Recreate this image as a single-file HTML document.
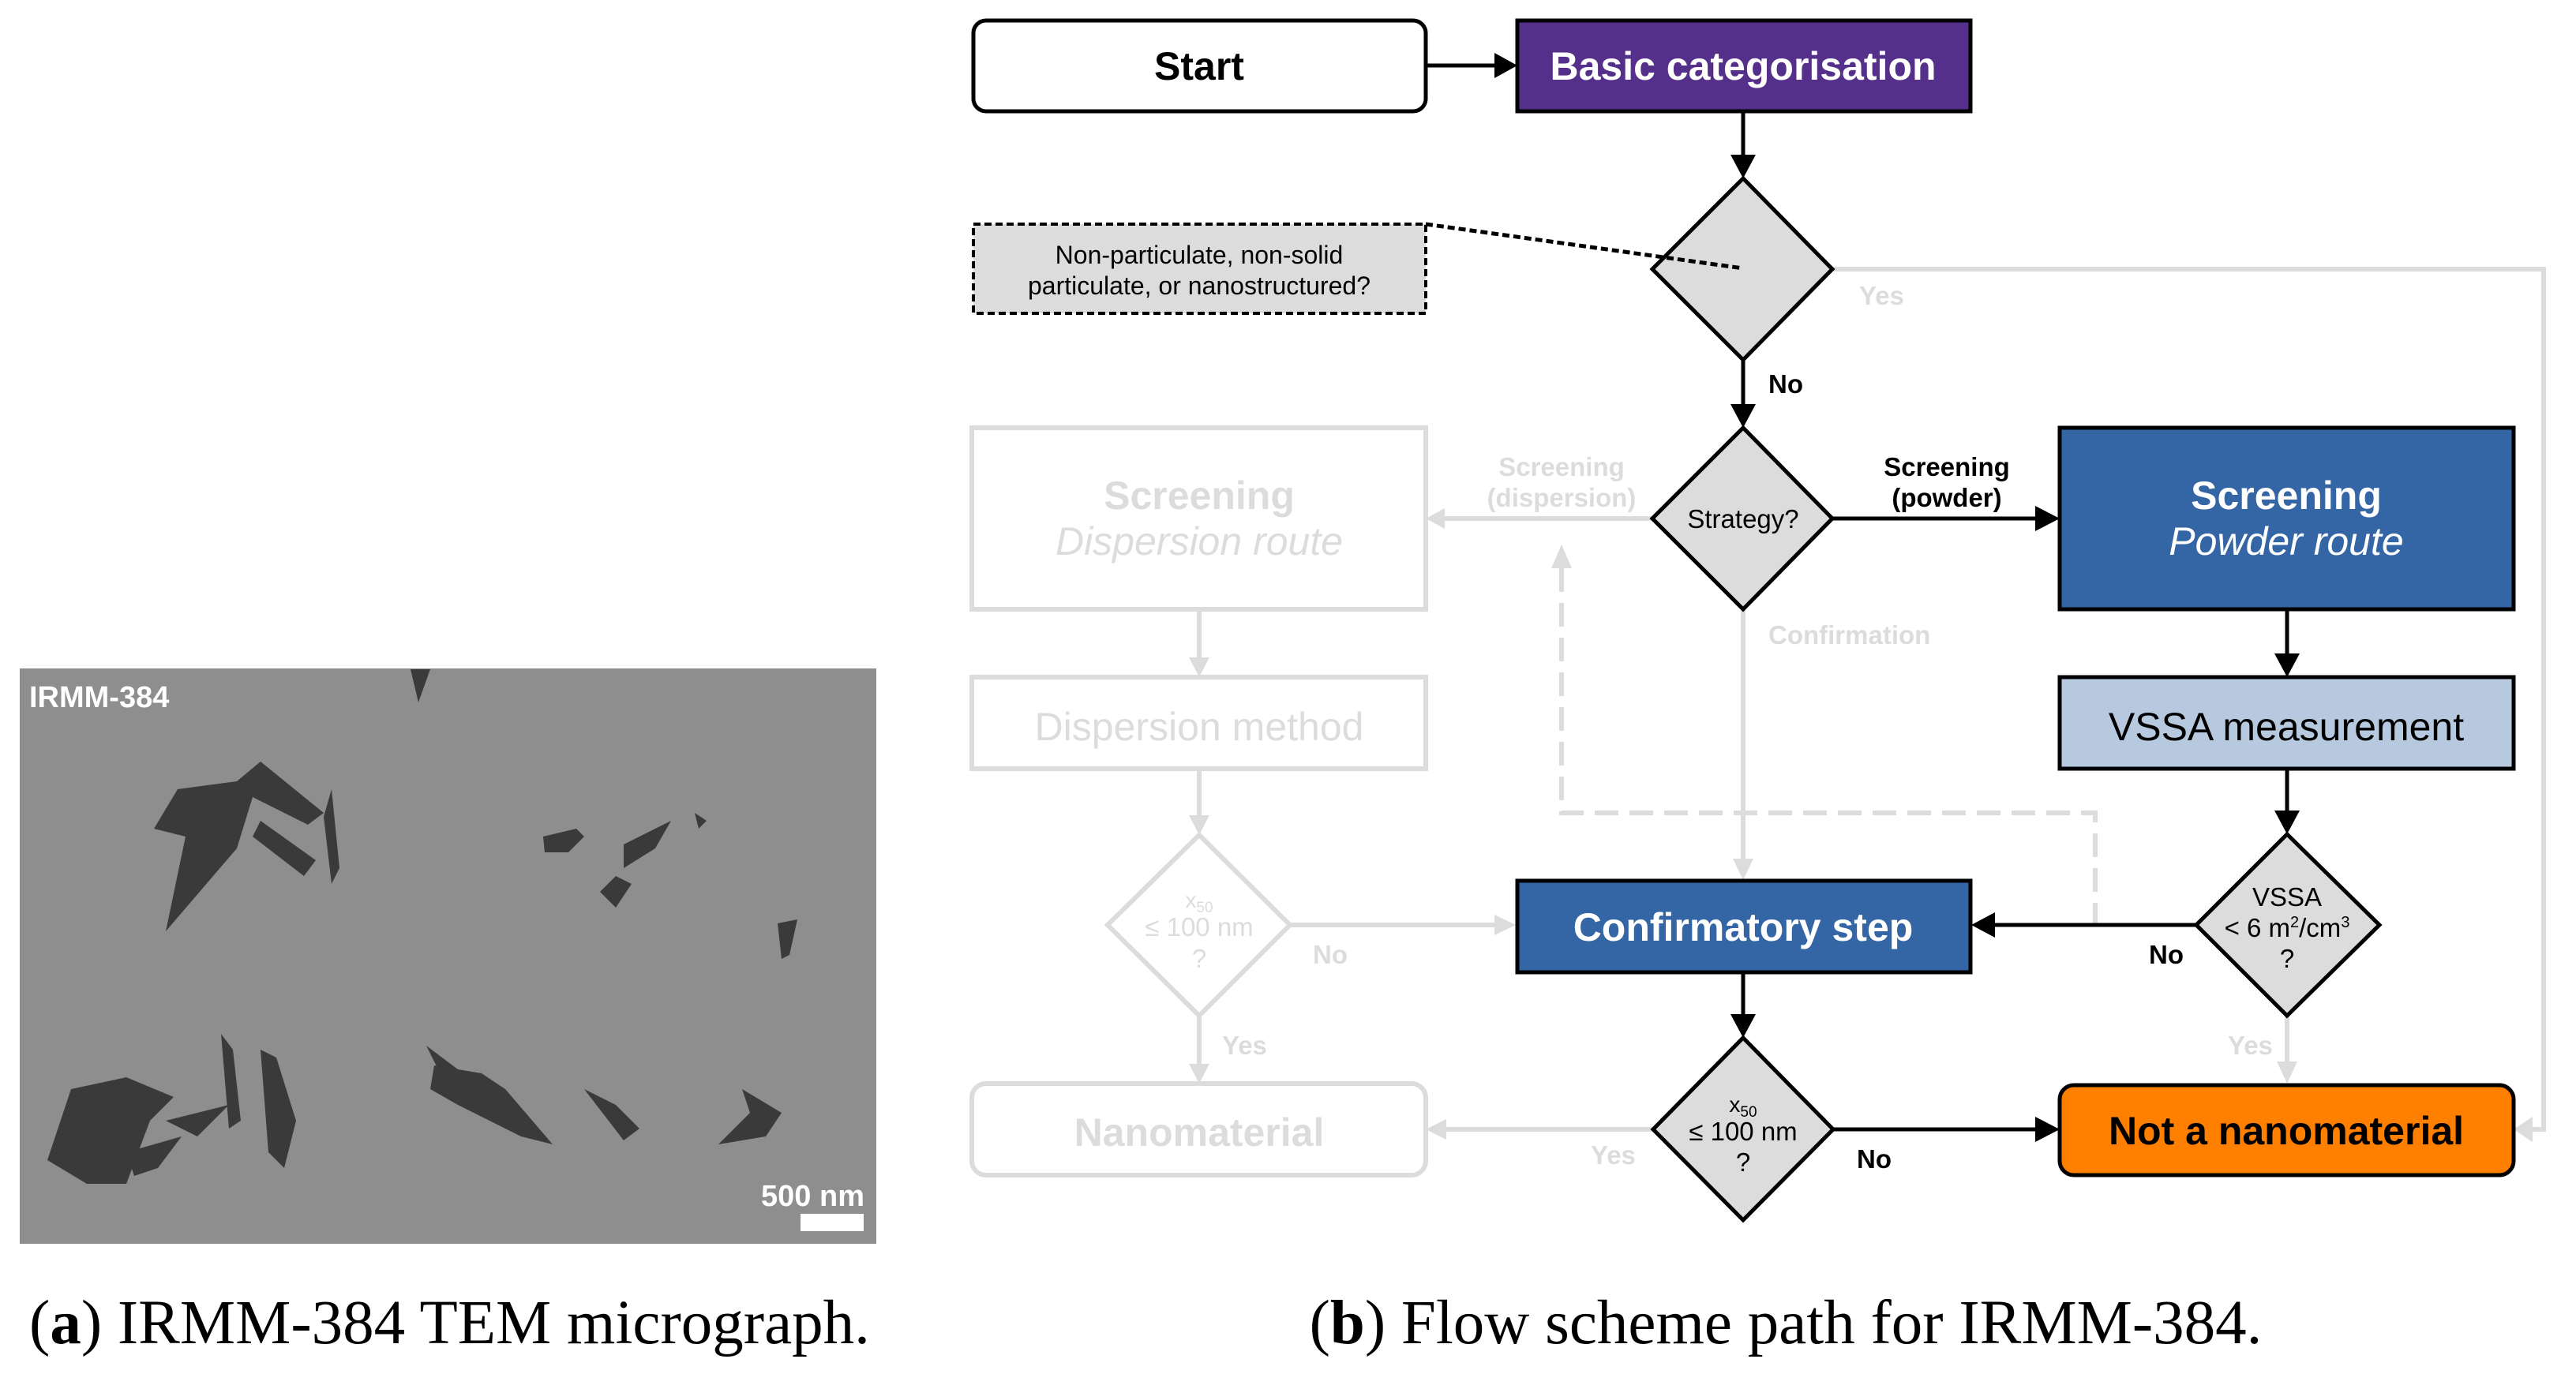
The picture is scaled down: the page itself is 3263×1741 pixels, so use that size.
<!DOCTYPE html>
<html><head><meta charset="utf-8"><style>
html,body{margin:0;padding:0;background:#fff;}
svg{display:block;}
text{font-family:"Liberation Sans",sans-serif;}
.cap{font-family:"Liberation Serif",serif;}
</style></head><body>
<svg width="3263" height="1741" viewBox="0 0 3263 1741" xmlns="http://www.w3.org/2000/svg">
<!-- Photo -->
<rect x="25" y="847" width="1085" height="729" fill="#8e8e8e"/>
<g fill="#3a3a3a">
<path d="M520,848 L545,848 L530,890 Z"/>
<path d="M225,1000 L300,990 L330,965 L410,1030 L390,1045 L320,1010 L300,1075 L210,1180 L235,1060 L195,1050 Z"/>
<path d="M330,1040 L400,1090 L385,1110 L320,1060 Z"/>
<path d="M410,1035 L420,1000 L430,1100 L420,1120 Z" />
<path d="M688,1060 L690,1080 L720,1080 L740,1060 L730,1050 Z"/>
<path d="M760,1130 L780,1110 L800,1120 L780,1150 Z"/>
<path d="M790,1070 L850,1040 L830,1075 L790,1100 Z"/>
<path d="M880,1030 L895,1040 L885,1050 Z"/>
<path d="M985,1170 L1010,1165 L1000,1210 L990,1215 Z"/>
<path d="M90,1380 L160,1365 L220,1390 L190,1420 L160,1500 L110,1500 L60,1470 Z"/>
<path d="M160,1460 L230,1440 L200,1480 L170,1490 Z"/>
<path d="M210,1420 L290,1400 L250,1440 Z"/>
<path d="M280,1310 L295,1330 L305,1420 L290,1430 Z"/>
<path d="M330,1330 L350,1340 L375,1420 L360,1480 L340,1460 Z"/>
<path d="M550,1350 L610,1360 L640,1380 L700,1450 L660,1440 L580,1400 L545,1380 Z"/>
<path d="M540,1325 L580,1355 L560,1365 Z"/>
<path d="M740,1380 L780,1400 L810,1430 L790,1445 Z"/>
<path d="M940,1380 L990,1410 L970,1440 L910,1450 L950,1410 Z"/>
</g>
<text x="37" y="896" font-size="38" font-weight="bold" fill="#fff">IRMM-384</text>
<text x="1095" y="1528" font-size="38" font-weight="bold" fill="#fff" text-anchor="end">500 nm</text>
<rect x="1014" y="1538" width="80" height="22" fill="#fff"/>
<text class="cap" x="37" y="1702" font-size="79" fill="#000"><tspan>(</tspan><tspan font-weight="bold">a</tspan><tspan>) IRMM-384 TEM micrograph.</tspan></text>
<text class="cap" x="2262" y="1702" font-size="79" fill="#000" text-anchor="middle"><tspan>(</tspan><tspan font-weight="bold">b</tspan><tspan>) Flow scheme path for IRMM-384.</tspan></text>

<!-- Gray (inactive) parts -->
<g stroke="#dcdcdc" stroke-width="6" fill="none">
<polyline points="2321,341 3222,341 3222,1431 3200,1431"/>
<line x1="2093" y1="657" x2="1830" y2="657"/>
<line x1="2208" y1="772" x2="2208" y2="1090"/>
<polyline points="1978,720 1978,1030 2654,1030 2654,1172" stroke-dasharray="30,14"/>
<line x1="1519" y1="772" x2="1519" y2="835"/>
<line x1="1519" y1="974" x2="1519" y2="1035"/>
<line x1="1634" y1="1172" x2="1895" y2="1172"/>
<line x1="1519" y1="1287" x2="1519" y2="1350"/>
<line x1="2093" y1="1431" x2="1830" y2="1431"/>
<line x1="2897" y1="1287" x2="2897" y2="1350"/>
<rect x="1231" y="542" width="575" height="230"/>
<rect x="1231" y="858" width="575" height="116"/>
<rect x="1231" y="1373" width="575" height="116" rx="18"/>
<polygon points="1519,1058 1634,1172 1519,1287 1403,1172"/>
</g>
<g fill="#dcdcdc">
<polygon points="1806,657 1830,644 1830,670"/>
<polygon points="1978,690 1965,720 1991,720"/>
<polygon points="2208,1115 2195,1088 2221,1088"/>
<polygon points="1519,858 1506,833 1532,833"/>
<polygon points="1519,1058 1506,1033 1532,1033"/>
<polygon points="1920,1172 1893,1159 1893,1185"/>
<polygon points="1519,1373 1506,1348 1532,1348"/>
<polygon points="1806,1431 1832,1418 1832,1444"/>
<polygon points="2897,1373 2884,1345 2910,1345"/>
<polygon points="3184,1431 3208,1415 3208,1447"/>
</g>
<g fill="#dcdcdc" font-size="33" font-weight="bold">
<text x="2355" y="386">Yes</text>
<text x="1978" y="603" text-anchor="middle">Screening</text>
<text x="1978" y="642" text-anchor="middle">(dispersion)</text>
<text x="2240" y="816">Confirmation</text>
<text x="1663" y="1221">No</text>
<text x="1548" y="1336">Yes</text>
<text x="2015" y="1475">Yes</text>
<text x="2822" y="1336">Yes</text>
</g>
<g fill="#dcdcdc" text-anchor="middle">
<text x="1519" y="645" font-size="50" font-weight="bold">Screening</text>
<text x="1519" y="703" font-size="50" font-style="italic">Dispersion route</text>
<text x="1519" y="938" font-size="50">Dispersion method</text>
<text x="1519" y="1452" font-size="50" font-weight="bold">Nanomaterial</text>
<text x="1519" y="1150" font-size="28">x<tspan font-size="19" dy="6">50</tspan></text>
<text x="1519" y="1186" font-size="33">≤ 100 nm</text>
<text x="1519" y="1226" font-size="33">?</text>
</g>

<!-- Active parts -->
<g stroke="#000" stroke-width="5" fill="none">
<line x1="1806" y1="83" x2="1895" y2="83"/>
<line x1="2208" y1="141" x2="2208" y2="200"/>
<line x1="2208" y1="456" x2="2208" y2="515"/>
<line x1="2321" y1="657" x2="2580" y2="657"/>
<line x1="2897" y1="772" x2="2897" y2="830"/>
<line x1="2897" y1="974" x2="2897" y2="1030"/>
<line x1="2782" y1="1172" x2="2525" y2="1172"/>
<line x1="2208" y1="1232" x2="2208" y2="1290"/>
<line x1="2322" y1="1431" x2="2580" y2="1431"/>
</g>
<g fill="#000">
<polygon points="1922,83 1893,67 1893,99"/>
<polygon points="2208,226 2192,196 2224,196"/>
<polygon points="2208,542 2192,512 2224,512"/>
<polygon points="2609,657 2578,641 2578,673"/>
<polygon points="2897,858 2881,828 2913,828"/>
<polygon points="2897,1057 2881,1027 2913,1027"/>
<polygon points="2497,1172 2527,1156 2527,1188"/>
<polygon points="2208,1315 2192,1285 2224,1285"/>
<polygon points="2609,1431 2578,1415 2578,1447"/>
</g>
<rect x="1233" y="26" width="573" height="115" rx="16" fill="#fff" stroke="#000" stroke-width="5"/>
<rect x="1922" y="26" width="574" height="115" fill="#55308a" stroke="#000" stroke-width="5"/>
<rect x="1233" y="284" width="573" height="113" fill="#dcdcdc" stroke="#000" stroke-width="4" stroke-dasharray="9,5"/>
<polygon points="2208,226 2321,341 2208,456 2093,341" fill="#dcdcdc" stroke="#000" stroke-width="5"/>
<line x1="1806" y1="284" x2="2208" y2="340" stroke="#000" stroke-width="5" stroke-dasharray="9,5"/>
<polygon points="2208,542 2321,657 2208,772 2093,657" fill="#dcdcdc" stroke="#000" stroke-width="5"/>
<rect x="2609" y="542" width="575" height="230" fill="#3465a4" stroke="#000" stroke-width="5"/>
<rect x="2609" y="858" width="575" height="116" fill="#b7c9de" stroke="#000" stroke-width="5"/>
<polygon points="2897,1057 3014,1172 2897,1287 2782,1172" fill="#dcdcdc" stroke="#000" stroke-width="5"/>
<rect x="1922" y="1116" width="574" height="116" fill="#3465a4" stroke="#000" stroke-width="5"/>
<polygon points="2208,1315 2322,1431 2208,1546 2094,1431" fill="#dcdcdc" stroke="#000" stroke-width="5"/>
<rect x="2609" y="1375" width="575" height="114" rx="18" fill="#ff7f00" stroke="#000" stroke-width="5"/>

<g text-anchor="middle">
<text x="1519" y="101" font-size="50" font-weight="bold">Start</text>
<text x="2208" y="101" font-size="50" font-weight="bold" fill="#fff">Basic categorisation</text>
<text x="1519" y="334" font-size="32">Non-particulate, non-solid</text>
<text x="1519" y="373" font-size="32">particulate, or nanostructured?</text>
<text x="2208" y="669" font-size="33">Strategy?</text>
<text x="2896" y="645" font-size="50" font-weight="bold" fill="#fff">Screening</text>
<text x="2896" y="703" font-size="50" font-style="italic" fill="#fff">Powder route</text>
<text x="2896" y="938" font-size="50">VSSA measurement</text>
<text x="2897" y="1148" font-size="33">VSSA</text>
<text x="2897" y="1187" font-size="33">&lt; 6 m<tspan font-size="20" dy="-12">2</tspan><tspan dy="12">/cm</tspan><tspan font-size="20" dy="-12">3</tspan></text>
<text x="2897" y="1226" font-size="33">?</text>
<text x="2208" y="1192" font-size="50" font-weight="bold" fill="#fff">Confirmatory step</text>
<text x="2208" y="1409" font-size="28">x<tspan font-size="19" dy="6">50</tspan></text>
<text x="2208" y="1445" font-size="33">≤ 100 nm</text>
<text x="2208" y="1484" font-size="33">?</text>
<text x="2896" y="1450" font-size="50" font-weight="bold">Not a nanomaterial</text>
<text x="2466" y="603" font-size="33" font-weight="bold">Screening</text>
<text x="2466" y="642" font-size="33" font-weight="bold">(powder)</text>
</g>
<g font-size="33" font-weight="bold">
<text x="2240" y="498">No</text>
<text x="2722" y="1221">No</text>
<text x="2352" y="1480">No</text>
</g>
</svg>
</body></html>
